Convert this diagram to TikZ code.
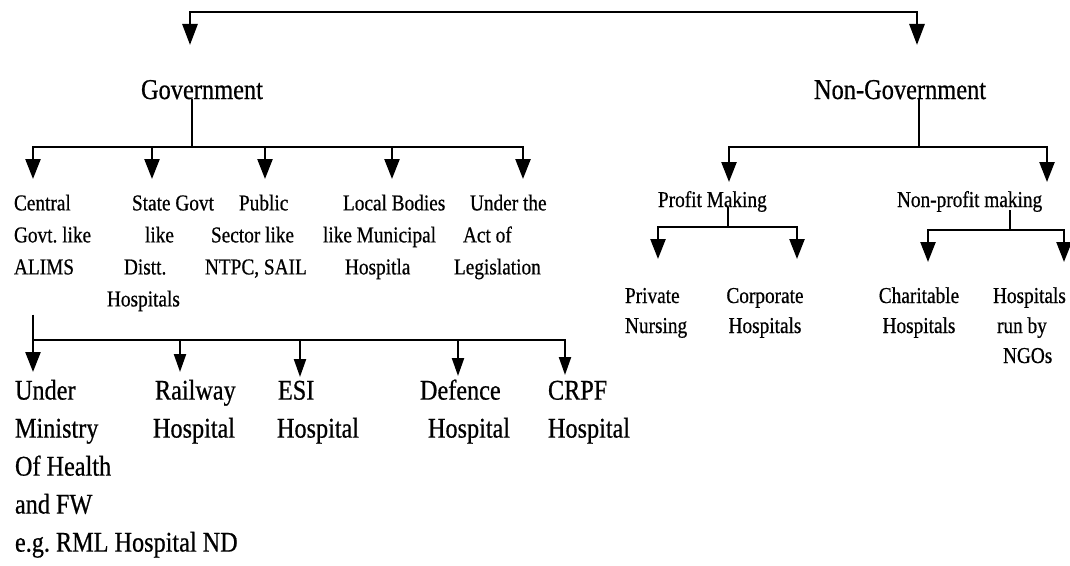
\documentclass[tikz,border=0pt]{standalone}
\usepackage{fontspec}
\setmainfont{Liberation Serif}[FakeStretch=0.85,FakeBold=0.6]
\usetikzlibrary{arrows.meta}
\begin{document}
\begin{tikzpicture}[x=1pt,y=-1pt,
  lbl/.style={inner sep=0pt,outer sep=0pt,text=black},
  head/.style={lbl,font=\fontsize{28.7}{34}\selectfont},
  lvs/.style={lbl,font=\fontsize{22.7}{32}\selectfont,align=left},
  lvr/.style={lbl,font=\fontsize{22.7}{30}\selectfont},
  lvb/.style={lbl,font=\fontsize{28.5}{38}\selectfont,align=left},
  bar/.style={line width=2.8pt,line cap=rect},
  stem/.style={line width=2.2pt},
  arr/.style={line width=2.4pt,-{Triangle[width=15pt,length=20pt]}},
  arrs/.style={line width=2.2pt,-{Triangle[width=12pt,length=18pt]}},
]
\useasboundingbox (0,0) rectangle (1070,565);

% level 1
\node[head,anchor=base west] (gov) at (141,99) {Government};
\node[head,anchor=base west] (ng) at (814,99) {Non-Government};
\coordinate (tl) at (190,12);
\coordinate (tr) at (917,12);
\draw[line width=2.8pt,{Triangle[width=15pt,length=21pt]}-{Triangle[width=15pt,length=21pt]},shorten <=35pt,shorten >=35pt]
  (tl |- gov.north) -- (tl) -- (tr) -- (tr |- ng.north);

% government level 2
\node[lvs,anchor=north west] (central) at (14,188) {\strut Central\\Govt.\ like\\ALIMS};
\node[lvs,anchor=north west] (state) at (107,188) {\strut\hspace*{25pt}State Govt\\\hspace*{38pt}like\\\hspace*{17pt}Distt.\\Hospitals};
\node[lvs,anchor=north west] (public) at (205,188) {\strut\hspace*{34pt}Public\\\hspace*{6pt}Sector like\\NTPC, SAIL};
\node[lvs,anchor=north west] (local) at (323,188) {\strut\hspace*{20pt}Local Bodies\\like Municipal\\\hspace*{22pt}Hospitla};
\node[lvs,anchor=north west] (act) at (454,188) {\strut\hspace*{16pt}Under the\\\hspace*{9pt}Act of\\Legislation};

\coordinate (gj) at (192,147);
\coordinate (g1) at (33,147);
\coordinate (g2) at (152,147);
\coordinate (g3) at (265,147);
\coordinate (g4) at (392,147);
\coordinate (g5) at (523,147);
\draw[stem] (gj |- gov.base) -- (gj);
\draw[bar] (g1) -- (g5);
\draw[arr,shorten >=9pt] (g1) -- (g1 |- central.north);
\draw[arr,shorten >=9pt] (g2) -- (g2 |- state.north);
\draw[arr,shorten >=9pt] (g3) -- (g3 |- public.north);
\draw[arr,shorten >=9pt] (g4) -- (g4 |- local.north);
\draw[arr,shorten >=9pt] (g5) -- (g5 |- act.north);

% central level 3
\node[lvb,anchor=north west] (mohfw) at (15,373) {\strut Under\\Ministry\\Of Health\\and FW\\e.g.\ RML Hospital ND};
\node[lvb,anchor=north west] (railway) at (153,373) {\strut\hspace*{2pt}Railway\\Hospital};
\node[lvb,anchor=north west] (esi) at (277,373) {\strut\hspace*{1pt}ESI\\Hospital};
\node[lvb,anchor=north west] (defence) at (420,373) {\strut Defence\\\hspace*{8pt}Hospital};
\node[lvb,anchor=north west] (crpf) at (548,373) {\strut CRPF\\Hospital};

\coordinate (c1) at (33,340);
\coordinate (c2) at (180,340);
\coordinate (c3) at (300,340);
\coordinate (c4) at (458,340);
\coordinate (c5) at (565,340);
\draw[stem,shorten <=40pt] (c1 |- central.south) -- (c1);
\draw[bar] (c1) -- (c5);
\draw[arr,shorten >=1pt] (c1) -- (c1 |- mohfw.north);
\draw[arrs,shorten >=1pt] (c2) -- (c2 |- railway.north);
\draw[arrs,shorten >=-4pt] (c3) -- (c3 |- esi.north);
\draw[arrs,shorten >=-3pt] (c4) -- (c4 |- defence.north);
\draw[arrs,shorten >=-2pt] (c5) -- (c5 |- crpf.north);

% non-government level 2
\node[lvr,anchor=base west] (pm) at (658,207) {Profit Making};
\node[lvr,anchor=base west] (npm) at (897,207) {Non-profit making};
\coordinate (nj) at (919,147);
\coordinate (n1) at (729,147);
\coordinate (n2) at (1047,147);
\draw[stem] (nj |- ng.base) -- (nj);
\draw[bar] (n1) -- (n2);
\draw[arr,shorten >=9pt] (n1) -- (n1 |- pm.north);
\draw[arr,shorten >=9pt] (n2) -- (n2 |- npm.north);

% non-government level 3
\node[lvr,align=left,anchor=north west] (priv) at (625,282) {\strut Private\\Nursing};
\node[lvr,align=center,anchor=north] (corp) at (765,282) {\strut Corporate\\Hospitals};
\node[lvr,align=center,anchor=north] (char) at (919,282) {\strut Charitable\\Hospitals};
\node[lvr,align=left,anchor=north west] (ngo) at (993,282) {\strut Hospitals\\\hspace*{4pt}run by\\\hspace*{10pt}NGOs};

\coordinate (pj) at (728,227);
\coordinate (p1) at (658,227);
\coordinate (p2) at (797,227);
\draw[stem] (pj |- pm.base) -- (pj);
\draw[bar] (p1) -- (p2);
\draw[arr,shorten >=23pt] (p1) -- (p1 |- priv.north);
\draw[arr,shorten >=23pt] (p2) -- (p2 |- corp.north);

\coordinate (qj) at (1010,230);
\coordinate (q1) at (928,230);
\coordinate (q2) at (1064,230);
\draw[stem,shorten <=3pt] (qj |- npm.base) -- (qj);
\draw[bar] (q1) -- (q2);
\draw[arr,shorten >=20pt] (q1) -- (q1 |- char.north);
\draw[arr,shorten >=20pt] (q2) -- (q2 |- ngo.north);
\end{tikzpicture}
\end{document}
